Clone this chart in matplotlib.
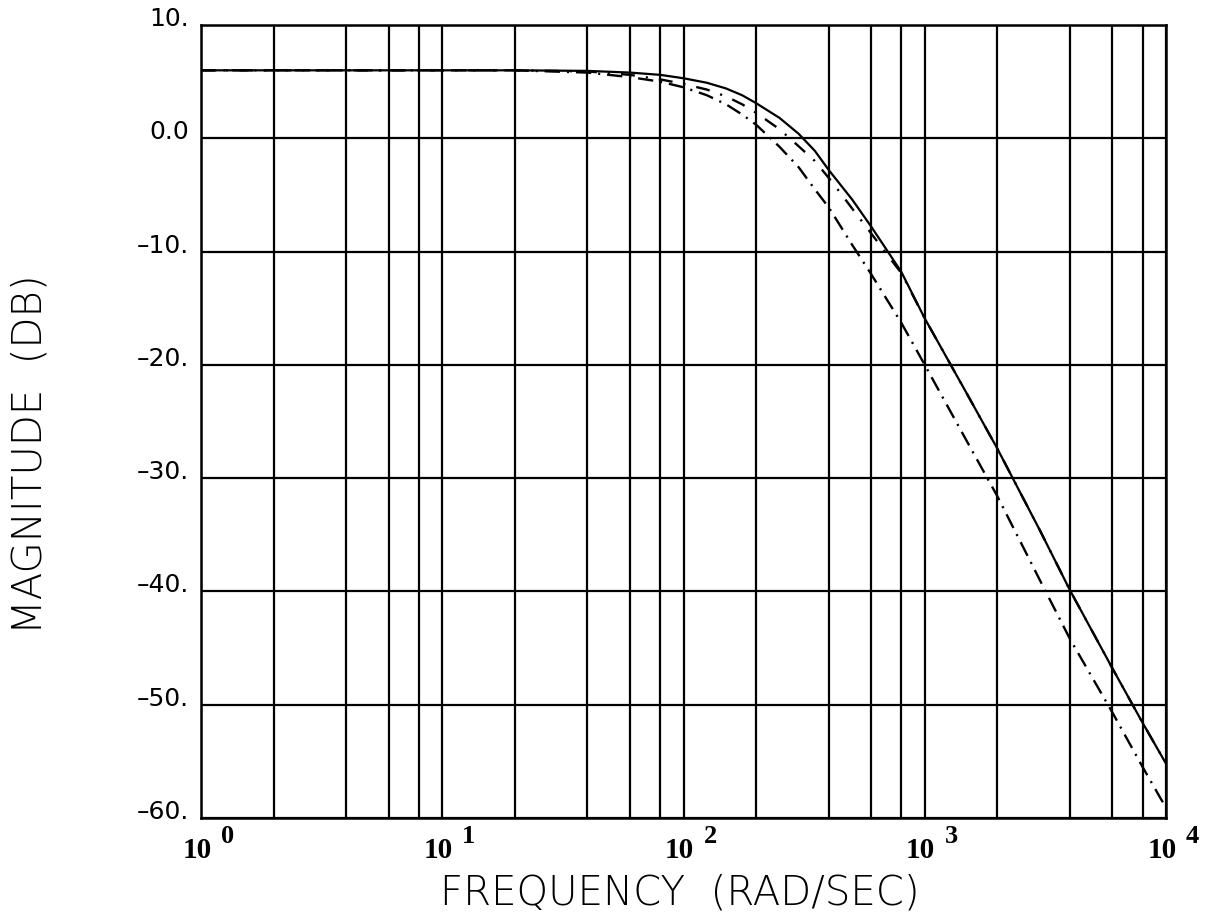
import matplotlib
matplotlib.use("Agg")
import matplotlib.pyplot as plt
from matplotlib.ticker import NullLocator

plt.rcParams['lines.scale_dashes'] = False

# frequency response magnitudes (rad/sec, dB) for the three cases
w_solid = [1, 10, 20, 40, 60, 80, 100, 125, 150, 175, 200, 250, 300, 350, 400,
           500, 600, 800, 1000, 1500, 2000, 3000, 4000, 6000, 8000, 10000]
db_solid = [6.0, 6.0, 6.0, 5.95, 5.8, 5.6, 5.3, 4.9, 4.4, 3.8, 3.1, 1.8, 0.4, -1.1, -2.8,
            -5.4, -7.8, -11.8, -15.9, -22.6, -27.4, -34.6, -39.9, -46.8, -51.6, -55.2]

w_dash = [1, 10, 20, 40, 60, 80, 100, 125, 150, 175, 200, 250, 300, 350, 400, 450,
          500, 600, 700, 800, 1000, 1500, 2000, 3000, 4000, 6000, 8000, 10000]
db_dash = [6.0, 6.0, 6.0, 5.9, 5.6, 5.2, 4.8, 4.3, 3.7, 3.0, 2.25, 0.8, -0.7, -2.0, -3.5, -4.9,
           -6.2, -8.4, -10.3, -11.9, -15.9, -22.6, -27.4, -34.6, -39.9, -46.8, -51.6, -55.2]

w_dashdot = [1, 10, 20, 40, 60, 80, 100, 125, 150, 175, 200, 250, 300, 350, 400,
             500, 600, 800, 1000, 1500, 2000, 3000, 4000, 6000, 8000, 10000]
db_dashdot = [6.0, 6.0, 6.0, 5.8, 5.4, 5.0, 4.5, 3.8, 3.0, 2.1, 1.2, -0.75, -2.55, -4.5, -6.1,
              -9.4, -12.0, -16.3, -20.0, -26.8, -31.6, -39.0, -44.2, -50.7, -55.5, -59.1]

decades = [1, 10, 100, 1000, 10000]
exponents = ['0', '1', '2', '3', '4']
x_grid = [d * m for d in decades[:-1] for m in (1, 2, 4, 6, 8)] + [10000]
y_ticks = [10, 0, -10, -20, -30, -40, -50, -60]
y_labels = ['10.', '0.0', '–10.', '–20.', '–30.', '–40.', '–50.', '–60.']

W, H = 1215, 916
fig = plt.figure(figsize=(W / 100, H / 100), dpi=100)
ax = fig.add_axes([201 / W, 1 - 818 / H, (1166 - 201) / W, (818 - 25) / H])

ax.plot(w_solid, db_solid, color='black', lw=1.6, ls='-')
ax.plot(w_dash, db_dash, color='black', lw=1.7, ls=(0, (10, 8, 1.5, 8)))
ax.plot(w_dashdot, db_dashdot, color='black', lw=1.7, ls=(0, (11, 5, 1.5, 5)))

ax.set_xscale('log')
ax.set_xlim(1, 10000)
ax.set_ylim(-60, 10)
ax.set_xticks(x_grid)
ax.xaxis.set_minor_locator(NullLocator())
ax.set_yticks(y_ticks)
ax.grid(True, color='black', lw=1.6)
ax.tick_params(length=0, labelbottom=False, labelleft=False)
for sp in ax.spines.values():
    sp.set_linewidth(1.8)

# y tick labels sit a little above their grid lines
for v, s in zip(y_ticks, y_labels):
    ax.annotate(s, xy=(0, v), xycoords=('axes fraction', 'data'),
                xytext=(-12, 6), textcoords='offset pixels',
                ha='right', va='center', fontsize=18, family='DejaVu Sans')

# decade labels 10^n with a detached exponent
for d, e in zip(decades, exponents):
    ax.annotate('10', xy=(d, 0), xycoords=('data', 'axes fraction'),
                xytext=(-4, -40), textcoords='offset pixels',
                ha='center', va='baseline', fontsize=21, family='Liberation Serif',
                fontweight='bold')
    ax.annotate(e, xy=(d, 0), xycoords=('data', 'axes fraction'),
                xytext=(20, -25), textcoords='offset pixels',
                ha='left', va='baseline', fontsize=19, family='Liberation Serif',
                fontweight='bold')

fig.text(680 / W, 1 - 905 / H, 'FREQUENCY  (RAD/SEC)', ha='center', va='baseline',
         fontsize=29, family='DejaVu Sans', fontweight='light')
fig.text(30 / W, 1 - 634 / H, 'MAGNITUDE  (DB)', rotation=90, ha='center', va='bottom',
         fontsize=29, family='DejaVu Sans', fontweight='light')

fig.savefig('out.png', dpi=100)
